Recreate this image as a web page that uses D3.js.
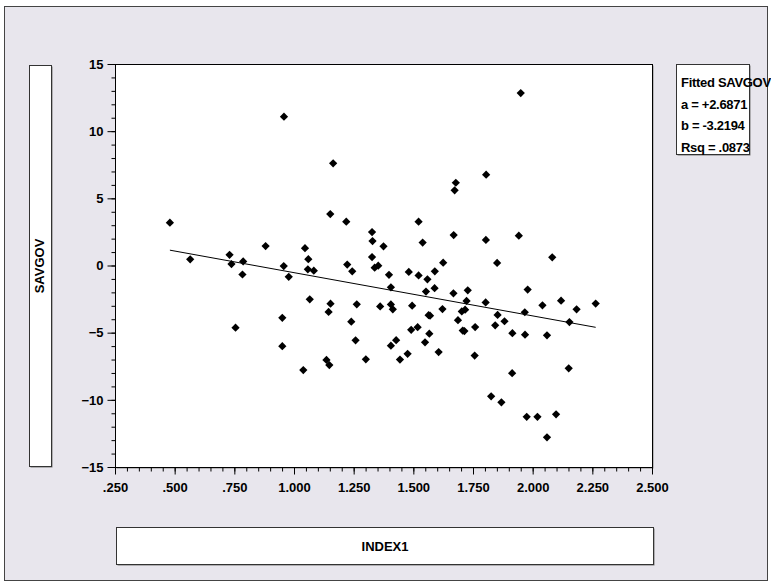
<!DOCTYPE html>
<html>
<head>
<meta charset="utf-8">
<script src="https://cdn.jsdelivr.net/npm/d3@7"></script>
<style>
  body { margin: 0; background: #ffffff; }
  text { font-family: "Liberation Sans", Arial, sans-serif; font-weight: bold; fill: #000; }
</style>
</head>
<body>
<svg id="chart" width="771" height="586"></svg>
<script>
// INDEX1 values (x) and SAVGOV values (y)
const index1 = [
  0.480, 0.565, 0.730, 0.738, 0.787, 0.784, 0.755, 0.881, 0.958, 0.957,
  0.978, 0.951, 0.951, 1.046, 1.060, 1.058, 1.083, 1.066, 1.039, 1.164,
  1.152, 1.153, 1.145, 1.136, 1.148, 1.219, 1.223, 1.244, 1.263, 1.240,
  1.258, 1.301, 1.327, 1.329, 1.375, 1.327, 1.338, 1.353, 1.398, 1.406,
  1.361, 1.406, 1.414, 1.428, 1.406, 1.444, 1.481, 1.522, 1.559, 1.590,
  1.625, 1.522, 1.539, 1.553, 1.589, 1.495, 1.622, 1.564, 1.570, 1.518,
  1.491, 1.567, 1.549, 1.476, 1.606, 1.669, 1.678, 1.673, 1.668, 1.728,
  1.723, 1.717, 1.703, 1.687, 1.707, 1.714, 1.759, 1.757, 1.804, 1.805,
  1.803, 1.851, 1.853, 1.882, 1.843, 1.826, 1.869, 1.915, 1.914, 1.942,
  1.950, 1.979, 1.967, 1.968, 1.975, 2.020, 2.041, 2.060, 2.060, 2.082,
  2.098, 2.119, 2.154, 2.151, 2.184, 2.264
];
const savgov = [
  3.19, 0.46, 0.80, 0.11, 0.30, -0.67, -4.63, 1.45, 11.08, -0.04,
  -0.84, -3.89, -6.01, 1.29, 0.47, -0.28, -0.39, -2.52, -7.78, 7.61,
  3.83, -2.84, -3.46, -7.03, -7.41, 3.26, 0.07, -0.43, -2.89, -4.18,
  -5.57, -6.98, 2.49, 1.82, 1.43, 0.63, -0.16, -0.01, -0.69, -1.62,
  -3.05, -2.90, -3.26, -5.56, -5.97, -7.00, -0.48, -0.74, -1.03, -0.43,
  0.21, 3.26, 1.71, -1.94, -1.69, -2.99, -3.24, -3.70, -3.74, -4.59,
  -4.79, -5.08, -5.72, -6.57, -6.44, 2.27, 6.16, 5.60, -2.07, -1.85,
  -2.64, -3.29, -3.42, -4.07, -4.84, -4.88, -4.58, -6.70, 1.90, 6.76,
  -2.75, 0.19, -3.68, -4.15, -4.45, -9.74, -10.18, -5.04, -8.02, 2.22,
  12.84, -1.79, -3.48, -5.15, -11.26, -11.26, -2.96, -5.20, -12.79, 0.61,
  -11.08, -2.62, -4.21, -7.65, -3.26, -2.83
];

// fitted line from the legend
const fitA = 2.6871;
const fitB = -3.2194;
const fitLines = ["Fitted SAVGOV", "a = +2.6871", "b = -3.2194", "Rsq = .0873"];

const xTicks = [0.25, 0.5, 0.75, 1.0, 1.25, 1.5, 1.75, 2.0, 2.25, 2.5];
const xTickLabels = [".250", ".500", ".750", "1.000", "1.250", "1.500", "1.750", "2.000", "2.250", "2.500"];
const yTicks = [15, 10, 5, 0, -5, -10, -15];

const svg = d3.select("#chart");
const plot = { left: 115, right: 652, top: 64, bottom: 467 };

// background frame
svg.append("rect")
  .attr("x", 4.5).attr("y", 6.5)
  .attr("width", 763).attr("height", 574)
  .attr("fill", "#e8e6ed")
  .attr("stroke", "#444");

const x = d3.scaleLinear().domain([0.25, 2.5]).range([plot.left, plot.right]);
const y = d3.scaleLinear().domain([-15, 15]).range([plot.bottom, plot.top]);

// label boxes
function labelBox(x0, y0, w, h) {
  svg.append("rect")
    .attr("x", x0 + 1.5).attr("y", y0 + 1.5)
    .attr("width", w).attr("height", h)
    .attr("fill", "#777");
  svg.append("rect")
    .attr("x", x0 + 0.5).attr("y", y0 + 0.5)
    .attr("width", w).attr("height", h)
    .attr("fill", "#fff")
    .attr("stroke", "#333");
}

labelBox(29, 65, 22, 401);
labelBox(116, 527, 537, 37);
labelBox(676, 64, 73, 90);

svg.append("text")
  .attr("transform", "translate(44,266) rotate(-90)")
  .attr("text-anchor", "middle")
  .attr("font-size", 13)
  .text("SAVGOV");

svg.append("text")
  .attr("x", 385).attr("y", 551)
  .attr("text-anchor", "middle")
  .attr("font-size", 13)
  .text("INDEX1");

svg.append("g")
  .selectAll("text")
  .data(fitLines)
  .join("text")
  .attr("x", 681)
  .attr("y", (d, i) => 87 + i * 21.6)
  .attr("font-size", 13)
  .attr("letter-spacing", -0.3)
  .text((d) => d);

// plot area
svg.append("rect")
  .attr("x", plot.left + 1.5).attr("y", plot.top + 1.5)
  .attr("width", plot.right - plot.left).attr("height", plot.bottom - plot.top)
  .attr("fill", "#888");
svg.append("rect")
  .attr("x", plot.left + 0.5).attr("y", plot.top + 0.5)
  .attr("width", plot.right - plot.left).attr("height", plot.bottom - plot.top)
  .attr("fill", "#fff")
  .attr("stroke", "#000");

// axes: minor ticks, then majors with labels
const xMinor = d3.range(0.25, 2.5001, 0.05);
const yMinor = d3.range(-15, 15.001, 1);

svg.append("g")
  .attr("transform", `translate(0,${plot.bottom + 0.5})`)
  .call(d3.axisBottom(x).tickValues(xMinor).tickSize(4).tickFormat(""))
  .call((g) => g.select(".domain").remove());

svg.append("g")
  .attr("transform", `translate(0,${plot.bottom + 0.5})`)
  .call(d3.axisBottom(x).tickValues(xTicks).tickSize(7).tickPadding(8)
    .tickFormat((d, i) => xTickLabels[i]))
  .call((g) => g.select(".domain").remove())
  .call((g) => g.selectAll("text").attr("font-size", 13).attr("font-family", null));

svg.append("g")
  .attr("transform", `translate(${plot.left + 0.5},0)`)
  .call(d3.axisLeft(y).tickValues(yMinor).tickSize(4).tickFormat(""))
  .call((g) => g.select(".domain").remove());

svg.append("g")
  .attr("transform", `translate(${plot.left + 0.5},0)`)
  .call(d3.axisLeft(y).tickValues(yTicks).tickSize(8).tickPadding(4)
    .tickFormat(d3.format("d")))
  .call((g) => g.select(".domain").remove())
  .call((g) => g.selectAll("text").attr("font-size", 13).attr("font-family", null));

svg.selectAll(".tick line").attr("stroke", "#000");

// fitted line across the data range
const xExt = d3.extent(index1);
svg.append("line")
  .attr("x1", x(xExt[0])).attr("y1", y(fitA + fitB * xExt[0]))
  .attr("x2", x(xExt[1])).attr("y2", y(fitA + fitB * xExt[1]))
  .attr("stroke", "#000")
  .attr("stroke-width", 1);

// diamonds
const diamond = d3.symbol(d3.symbolSquare, 34)();
svg.append("g")
  .selectAll("path")
  .data(index1.map((v, i) => [v, savgov[i]]))
  .join("path")
  .attr("d", diamond)
  .attr("transform", (d) => `translate(${x(d[0])},${y(d[1])}) rotate(45)`)
  .attr("fill", "#000");
</script>
</body>
</html>
